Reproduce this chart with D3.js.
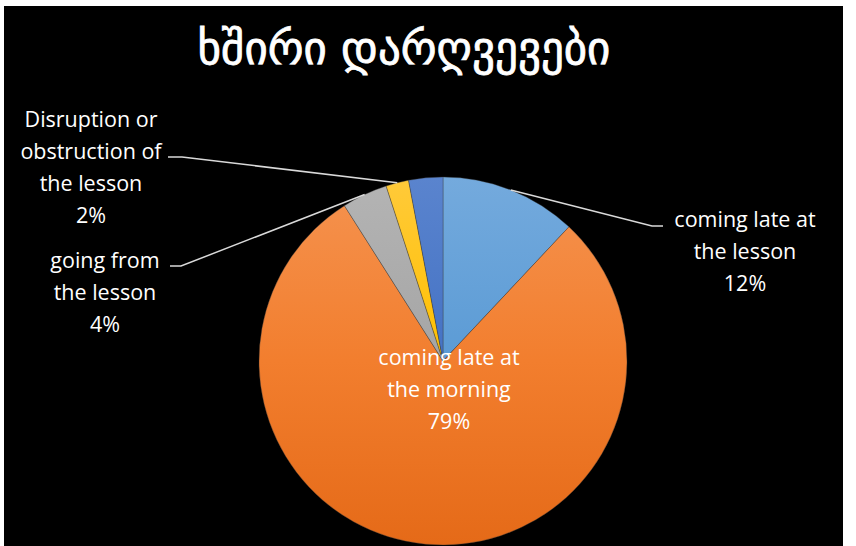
<!DOCTYPE html>
<html>
<head>
<meta charset="utf-8">
<script src="https://cdn.jsdelivr.net/npm/d3@7"></script>
<style>
  html, body { margin: 0; padding: 0; background: #ffffff; }
  svg { display: block; }
</style>
</head>
<body>
<svg id="chart" width="856" height="546"></svg>
<script>
// Chart data
const title = "ხშირი დარღვევები";
const categories = [
  "coming late at the lesson",
  "coming late at the morning",
  "going from the lesson",
  "Disruption or obstruction of the lesson",
  "other"
];
const values = [12, 79, 4, 2, 3];
// slice shading: colour at the top of the pie, middle and bottom
const colorsTop = ["#74AADD", "#F59350", "#B4B4B4", "#FFCA3A", "#5A84CE"];
const colorsMid = ["#5B9BD5", "#F27E2E", "#A5A5A5", "#FFC000", "#4472C4"];
const colorsBot = ["#4A88C8", "#E56A18", "#949494", "#F0B000", "#3A63B0"];
const labelLines = [
  ["coming late at", "the lesson"],
  ["coming late at", "the morning"],
  ["going from", "the lesson"],
  ["Disruption or", "obstruction of", "the lesson"],
  []
];

const W = 856, H = 546;
const cx = 443, cy = 361, R = 184;
const svg = d3.select("#chart");

// framed black panel
svg.append("rect").attr("x", 4).attr("y", 6).attr("width", 839).attr("height", H - 6).attr("fill", "#000");

svg.append("text")
  .attr("x", 404).attr("y", 64)
  .attr("text-anchor", "middle")
  .attr("fill", "#fff")
  .attr("stroke", "#fff")
  .attr("stroke-width", 0.8)
  .attr("font-family", "'DejaVu Sans', 'Noto Sans', sans-serif")
  .attr("font-size", 45)
  .text(title);

const total = d3.sum(values);
const pie = d3.pie().sort(null).value(d => d)(values);
const arc = d3.arc().innerRadius(0).outerRadius(R);

// vertical shading for each slice (coordinates local to the pie group)
const defs = svg.append("defs");
values.forEach((v, i) => {
  const g = defs.append("linearGradient")
    .attr("id", "grad" + i)
    .attr("gradientUnits", "userSpaceOnUse")
    .attr("x1", 0).attr("y1", -R).attr("x2", 0).attr("y2", R);
  g.append("stop").attr("offset", "0%").attr("stop-color", colorsTop[i]);
  g.append("stop").attr("offset", "50%").attr("stop-color", colorsMid[i]);
  g.append("stop").attr("offset", "100%").attr("stop-color", colorsBot[i]);
});

const gPie = svg.append("g").attr("transform", `translate(${cx},${cy})`);
gPie.selectAll("path")
  .data(pie)
  .join("path")
  .attr("d", arc)
  .attr("fill", (d, i) => `url(#grad${i})`)
  .attr("stroke", "rgba(60,60,60,0.6)")
  .attr("stroke-width", 0.6);

const pct = v => Math.round(v / total * 100) + "%";
const font = "'Open Sans', Lato, sans-serif";
const lineH = 32;

// label anchor positions (block centre x, first baseline y) and leader elbows
const labelPos = [
  { x: 745, y: 227, elbow: [[663, 226], [652, 226]] },
  { x: 449, y: 365, elbow: null },
  { x: 105, y: 268, elbow: [[170, 266], [181, 266]] },
  { x: 91, y: 127, elbow: [[168, 157], [182, 157]] },
  null
];

pie.forEach((d, i) => {
  const p = labelPos[i];
  if (!p) return;
  const lines = labelLines[i].concat([pct(d.value)]);
  const t = svg.append("text")
    .attr("text-anchor", "middle")
    .attr("fill", "#fff")
    .attr("font-family", font)
    .attr("font-size", 21.5);
  lines.forEach((s, k) => {
    t.append("tspan").attr("x", p.x).attr("y", p.y + k * lineH).text(s);
  });
  if (p.elbow) {
    const mid = (d.startAngle + d.endAngle) / 2;
    const ex = cx + R * Math.sin(mid), ey = cy - R * Math.cos(mid);
    const pts = p.elbow.concat([[ex, ey]]);
    svg.append("path")
      .attr("d", d3.line()(pts))
      .attr("fill", "none")
      .attr("stroke", "#d9d9d9")
      .attr("stroke-width", 1.5);
  }
});
</script>
</body>
</html>
